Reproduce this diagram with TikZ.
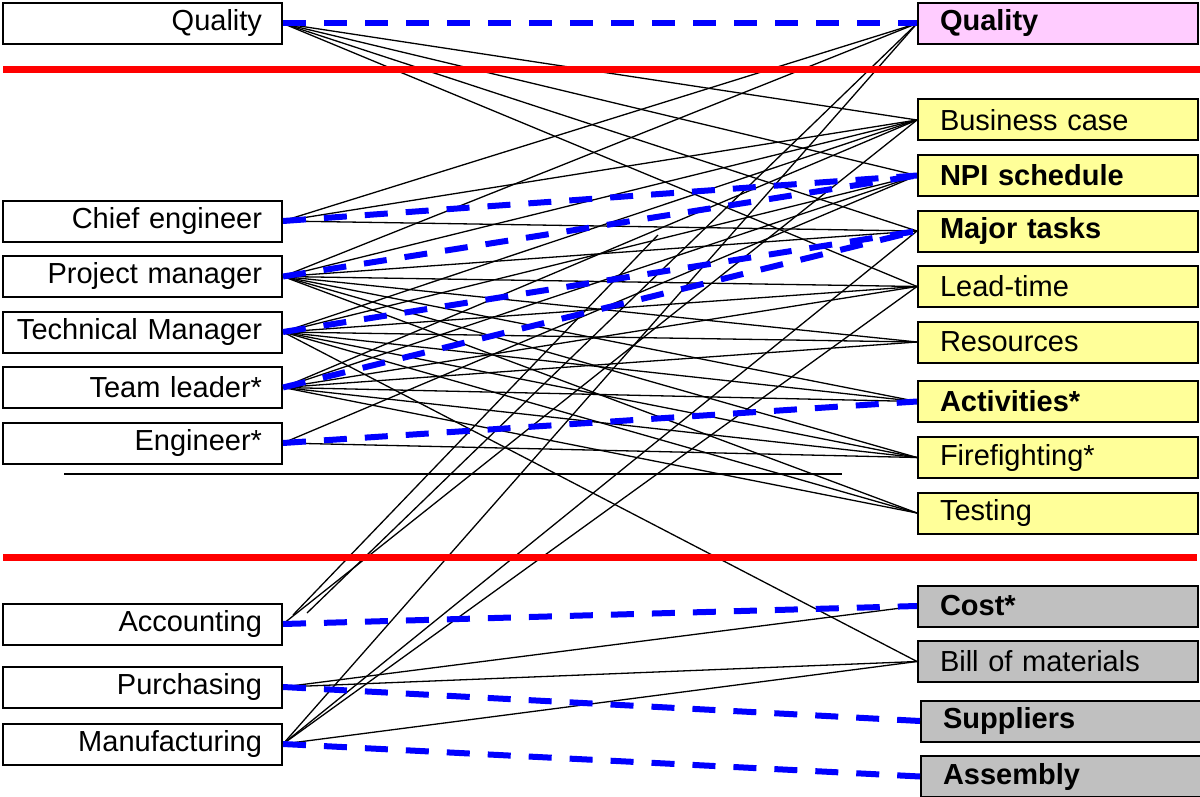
\documentclass[tikz,border=0pt]{standalone}
\usepackage{fontspec}
\setmainfont{Liberation Sans}
\usetikzlibrary{positioning}

\definecolor{pinkbox}{HTML}{FFCCFF}
\definecolor{yellowbox}{HTML}{FFFF99}
\definecolor{graybox}{HTML}{C0C0C0}

\tikzset{
  lbox/.style={draw, line width=1pt, text width=139.5pt, inner xsep=0pt, inner ysep=0pt,
    minimum height=20.5pt, align=right, execute at end node={\hspace*{10pt}},
    font=\fontsize{14.5}{16}\selectfont},
  rbox/.style={draw, line width=1pt, text width=118pt, inner xsep=11pt, inner ysep=0pt,
    minimum height=20.5pt, align=left, font=\fontsize{14.5}{16}\selectfont},
  bold/.style={font=\fontsize{14.5}{16}\selectfont\bfseries},
  link/.style={line width=0.65pt},
  mainlink/.style={blue, line width=3pt, dash pattern=on 11.5pt off 9pt},
  bar/.style={red, line width=3.5pt}
}

\begin{document}
\begin{tikzpicture}[x=0.5pt,y=-0.5pt,node distance=27.75pt,on grid]
   \useasboundingbox (0,0) rectangle (1200,797);
   % left column
   \node[lbox] (l_qual)  at (142.5,23.5)             {Quality};
   \node[lbox] (l_chief) [below=98.75pt of l_qual]  {Chief engineer};
   \node[lbox] (l_pm)    [below=of l_chief]         {Project manager};
   \node[lbox] (l_tm)    [below=of l_pm]            {Technical Manager};
   \node[lbox] (l_tl)    [below=of l_tm]            {Team leader*};
   \node[lbox] (l_eng)   [below=of l_tl]            {Engineer*};
   \node[lbox] (l_acc)   [below=90.5pt of l_eng]    {Accounting};
   \node[lbox] (l_pur)   [below=31.5pt of l_acc]    {Purchasing};
   \node[lbox] (l_man)   [below=28.5pt of l_pur]    {Manufacturing};
   % right column
   \node[rbox,bold,fill=pinkbox]   (r_qual) at (1058,23.5)              {Quality};
   \node[rbox,fill=yellowbox]      (r_bc)   [below=48.25pt of r_qual]   {Business case};
   \node[rbox,bold,fill=yellowbox] (r_npi)  [below=of r_bc]             {NPI schedule};
   \node[rbox,bold,fill=yellowbox] (r_mt)   [below=of r_npi]            {Major tasks};
   \node[rbox,fill=yellowbox]      (r_lt)   [below=of r_mt]             {Lead-time};
   \node[rbox,fill=yellowbox]      (r_res)  [below=of r_lt]             {Resources};
   \node[rbox,bold,fill=yellowbox] (r_act)  [below=29.75pt of r_res]    {Activities*};
   \node[rbox,fill=yellowbox]      (r_ff)   [below=28pt of r_act]       {Firefighting*};
   \node[rbox,fill=yellowbox]      (r_test) [below=of r_ff]             {Testing};
   \node[rbox,bold,fill=graybox]   (r_cost) [below=46.5pt of r_test]    {Cost*};
   \node[rbox,fill=graybox]        (r_bom)  [below=of r_cost]           {Bill of materials};
   \node[rbox,bold,fill=graybox]   (r_sup)  [below right=29.75pt and 1.5pt of r_bom] {Suppliers};
   \node[rbox,bold,fill=graybox]   (r_asm)  [below=of r_sup]            {Assembly};
   % loose ends near Accounting
   \coordinate (acc_a) at (293,615);
   \coordinate (acc_b) at (658,235);
   \coordinate (acc_c) at (307,613);
   \coordinate (sep_a) at (64,474);
   \coordinate (sep_b) at (842,474);

   \draw[line width=0.6pt] (sep_a) -- (sep_b);
    \path[link]
    (l_qual.east)  edge (r_bc.west) edge (r_npi.west) edge (r_mt.west) edge (r_lt.west)
    (l_chief.east) edge (r_qual.west) edge (r_bc.west) edge (r_mt.west)
    (l_pm.east)    edge (r_qual.west) edge (r_bc.west) edge (r_mt.west) edge (r_lt.west)
                   edge (r_res.west) edge (r_act.west) edge (r_ff.west) edge (r_test.west)
    (l_tm.east)    edge (r_bc.west) edge (r_npi.west) edge (r_lt.west) edge (r_res.west)
                   edge (r_act.west) edge (r_ff.west) edge (r_test.west) edge (r_bom.west)
    (l_tl.east)    edge (r_bc.west) edge (r_npi.west) edge (r_lt.west) edge (r_res.west)
                   edge (r_act.west) edge (r_ff.west) edge (r_test.west)
    (l_eng.east)   edge (r_npi.west) edge (r_ff.west)
    (l_acc.east)   edge (r_bc.west)
    (acc_c)        edge (r_qual.west)
    (acc_a)        edge (acc_b)
    (l_pur.east)   edge (r_cost.west) edge (r_bom.west)
    (l_man.east)   edge (r_qual.west) edge (r_mt.west) edge (r_lt.west) edge (r_bom.west);
    \path[mainlink]
    (l_qual.east)  edge (r_qual.west)
    (l_chief.east) edge (r_npi.west)
    (l_pm.east)    edge (r_npi.west)
    (l_tm.east)    edge (r_mt.west)
    (l_tl.east)    edge (r_mt.west)
    (l_eng.east)   edge (r_act.west)
    (l_acc.east)   edge (r_cost.west)
    (l_pur.east)   edge (r_sup.west)
    (l_man.east)   edge (r_asm.west);
   \draw[bar] (3,70) -- (1200,70);
   \draw[bar] (3,557) -- (1197,557);
\end{tikzpicture}
\end{document}
